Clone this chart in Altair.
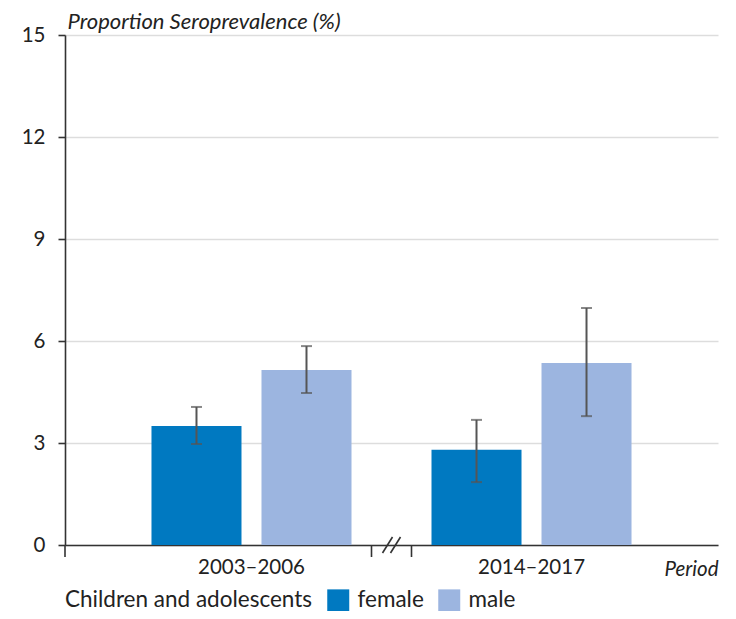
import altair as alt
import pandas as pd

periods = ["2003–2006", "2014–2017"]
sexes = ["female", "male"]
female_val = [3.5, 2.8]
male_val = [5.15, 5.35]
female_lo = [2.97, 1.85]
female_hi = [4.06, 3.68]
male_lo = [4.47, 3.79]
male_hi = [5.85, 6.97]
colors = ["#0079C1", "#9CB5E0"]
y_ticks = [0, 3, 6, 9, 12, 15]

rows = []
for i, p in enumerate(periods):
    rows.append({"period": p, "sex": "female", "value": female_val[i], "lo": female_lo[i], "hi": female_hi[i]})
    rows.append({"period": p, "sex": "male", "value": male_val[i], "lo": male_lo[i], "hi": male_hi[i]})
df = pd.DataFrame(rows)

W, H = 653, 510
FONT = "Lato"
TXT = "#222222"
LS = 20.5

x_enc = alt.X("period:N", sort=periods,
              scale=alt.Scale(paddingInner=0, paddingOuter=0.166),
              axis=alt.Axis(title="Period", titleFontStyle="italic", titleFontWeight="normal",
                            titleFontSize=20.5, titleAnchor="end", titleAlign="right",
                            titleX=W, titleY=14, titleBaseline="top", titleColor=TXT,
                            labelAngle=0, labelFontSize=LS, labelPadding=12, labelColor=TXT,
                            ticks=False, domainColor="#333333", domainWidth=1.6, grid=False))
xo_enc = alt.XOffset("sex:N", sort=sexes, scale=alt.Scale(paddingInner=0.1818, paddingOuter=0.3636))
y_scale = alt.Scale(domain=[0, 15], nice=False)

bars = alt.Chart(df).mark_bar().encode(
    x=x_enc,
    xOffset=xo_enc,
    y=alt.Y("value:Q", scale=y_scale,
            axis=alt.Axis(values=y_ticks, title="Proportion Seroprevalence (%)",
                          titleAngle=0, titleAlign="left", titleX=2, titleY=-7,
                          titleBaseline="alphabetic", titleFontStyle="italic",
                          titleFontWeight="normal", titleFontSize=22, titleColor=TXT,
                          titleLimit=600,
                          labelFontSize=LS, labelPadding=13, labelColor=TXT,
                          tickSize=7, tickColor="#333333", tickWidth=1.6,
                          domainColor="#333333", domainWidth=1.6,
                          gridColor="#dddddd", gridWidth=1.5)),
    color=alt.Color("sex:N", sort=sexes, scale=alt.Scale(domain=sexes, range=colors),
                    legend=alt.Legend(title="Children and adolescents", orient="none",
                                      legendX=0, legendY=554, direction="horizontal",
                                      titleOrient="left", titleFontWeight="normal",
                                      titleFontSize=22.5, titleColor=TXT, titlePadding=14,
                                      titleLimit=600,
                                      labelFontSize=22.5, labelColor=TXT, labelOffset=8,
                                      symbolType="square", symbolSize=484,
                                      symbolStrokeWidth=0, columnPadding=14, padding=0)),
)

err = alt.Chart(df).mark_rule(color="#555555", strokeWidth=2).encode(
    x=alt.X("period:N", sort=periods), xOffset=alt.XOffset("sex:N", sort=sexes),
    y=alt.Y("lo:Q"), y2="hi:Q")
cap_hi = alt.Chart(df).mark_tick(color="#555555", thickness=2, size=11).encode(
    x=alt.X("period:N", sort=periods), xOffset=alt.XOffset("sex:N", sort=sexes), y="hi:Q")
cap_lo = alt.Chart(df).mark_tick(color="#555555", thickness=2, size=11).encode(
    x=alt.X("period:N", sort=periods), xOffset=alt.XOffset("sex:N", sort=sexes), y="lo:Q")

one = pd.DataFrame({"k": [0]})
mid = W / 2
ext = alt.Chart(one).mark_rule(color="#333333", strokeWidth=1.6).encode(
    x=alt.value(0), y=alt.value(H), y2=alt.value(H + 12))
brk1 = alt.Chart(one).mark_rule(color="#333333", strokeWidth=1.6).encode(
    x=alt.value(mid - 20), y=alt.value(H), y2=alt.value(H + 12))
brk2 = alt.Chart(one).mark_rule(color="#333333", strokeWidth=1.6).encode(
    x=alt.value(mid + 20), y=alt.value(H), y2=alt.value(H + 12))
sl1 = alt.Chart(one).mark_rule(color="#333333", strokeWidth=1.6).encode(
    x=alt.value(mid - 9), x2=alt.value(mid + 1), y=alt.value(H + 8), y2=alt.value(H - 8))
sl2 = alt.Chart(one).mark_rule(color="#333333", strokeWidth=1.6).encode(
    x=alt.value(mid - 1), x2=alt.value(mid + 9), y=alt.value(H + 8), y2=alt.value(H - 8))

chart = alt.layer(bars, err, cap_hi, cap_lo, ext, brk1, brk2, sl1, sl2).properties(
    width=W, height=H,
    autosize=alt.AutoSizeParams(type="none"),
    padding={"left": 57, "top": 27, "right": 10, "bottom": 66},
).configure(font=FONT).configure_view(stroke=None)

chart.save("out.html", embed_options={"renderer": "svg", "actions": False})
